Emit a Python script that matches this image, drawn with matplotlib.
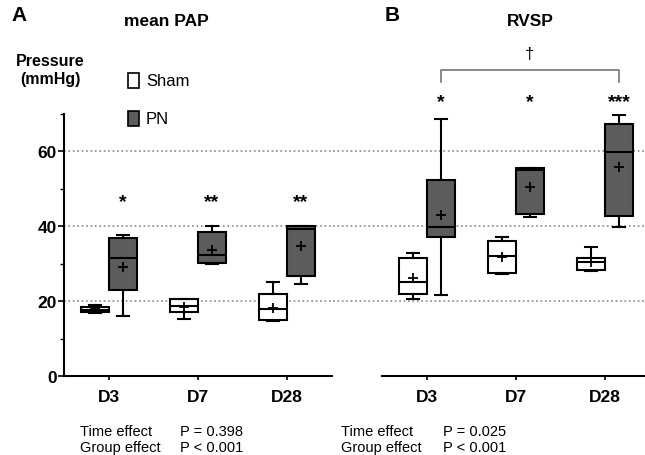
import matplotlib
matplotlib.use("Agg")
import matplotlib.pyplot as plt
from matplotlib.patches import Rectangle

days = ["D3", "D7", "D28"]
groups = ["Sham", "PN"]
colors = ["white", "#5c5c5c"]

# box stats: (whislo, q1, median, q3, whishi, mean)
pap_sham = [(17.0, 17.2, 17.6, 18.6, 18.9, 18.0),
            (15.3, 17.2, 18.8, 20.5, 20.5, 18.6),
            (14.7, 14.9, 17.9, 21.9, 25.1, 18.1)]
pap_pn = [(16.2, 22.9, 31.6, 36.8, 37.6, 29.1),
          (29.9, 30.3, 32.3, 38.4, 40.2, 33.8),
          (24.6, 26.8, 39.2, 40.0, 40.2, 34.7)]
rvsp_sham = [(20.6, 22.0, 25.1, 31.6, 32.8, 26.1),
             (27.3, 27.5, 32.1, 36.2, 37.1, 31.9),
             (28.2, 28.4, 30.4, 31.6, 34.5, 30.6)]
rvsp_pn = [(21.7, 37.2, 39.7, 52.4, 68.6, 43.0),
           (42.5, 43.3, 55.0, 55.5, 55.5, 50.4),
           (39.7, 42.8, 59.7, 67.3, 69.8, 55.9)]

pap_stars = ["*", "**", "**"]
rvsp_stars = ["*", "*", "***"]
pap_stats = ["Time effect", "Group effect"]
pap_p = ["P = 0.398", "P < 0.001"]
rvsp_p = ["P = 0.025", "P < 0.001"]

plt.rcParams['font.family'] = ['Liberation Sans', 'DejaVu Sans']

fig = plt.figure(figsize=(6.45, 4.56), dpi=100)
axA = fig.add_axes([0.0992, 0.1726, 0.4155, 0.5757])
axB = fig.add_axes([0.5922, 0.1726, 0.4078, 0.5757])


def to_dicts(rows):
    out = []
    for lo, q1, med, q3, hi, mean in rows:
        out.append(dict(whislo=lo, q1=q1, med=med, q3=q3, whishi=hi, mean=mean, fliers=[]))
    return out


def draw_panel(ax, sham, pn, stars, star_y):
    off = 0.157
    pos = list(range(len(days)))
    for data, shift, col in [(sham, -off, colors[0]), (pn, off, colors[1])]:
        ax.bxp(to_dicts(data), positions=[p + shift for p in pos], widths=0.31,
               patch_artist=True, showmeans=True,
               boxprops=dict(facecolor=col, edgecolor="black", linewidth=1.5),
               medianprops=dict(color="black", linewidth=1.5),
               whiskerprops=dict(color="black", linewidth=1.5),
               capprops=dict(color="black", linewidth=1.5),
               capwidths=0.13,
               meanprops=dict(marker="+", markeredgecolor="black", markersize=7, markeredgewidth=1.3))
    for p, s in zip(pos, stars):
        ax.text(p + off, star_y, s, ha="center", va="center", fontsize=14,
                fontweight="bold", clip_on=False)
    ax.set_ylim(0, 70)
    ax.set_xticks(pos)
    ax.set_xticklabels(days, fontsize=12.5, fontweight="bold")
    ax.tick_params(axis="x", length=3, width=1.2, pad=6)
    ax.spines["top"].set_visible(False)
    ax.spines["right"].set_visible(False)
    ax.spines["bottom"].set_linewidth(1.5)


draw_panel(axA, pap_sham, pap_pn, pap_stars, 46.5)
axA.set_xlim(-0.506, 2.506)
axA.set_yticks([0, 20, 40, 60])
axA.set_yticks([10, 30, 50, 70], minor=True)
axA.set_yticklabels(["0", "20", "40", "60"], fontsize=12.5, fontweight="bold")
axA.tick_params(axis="y", length=4, width=1.2, pad=1)
axA.tick_params(axis="y", which="minor", length=3, width=1)
axA.spines["left"].set_linewidth(1.5)
for g in [20, 40, 60]:
    axA.axhline(g, color="#888888", linestyle=":", linewidth=1.2, zorder=0)

draw_panel(axB, rvsp_sham, rvsp_pn, rvsp_stars, 73.2)
axB.set_xlim(-0.506, 2.45)
axB.spines["left"].set_visible(False)
axB.set_yticks([])
for g in [20, 40, 60]:
    axB.plot([-1.06, 2.45], [g, g], color="#888888", linestyle=":", linewidth=1.2,
             zorder=0, clip_on=False)

# bracket between PN D3 and PN D28
axB.plot([0.157, 0.157, 2.157, 2.157], [78.6, 81.8, 81.8, 78.6], color="#777777",
         linewidth=1.2, clip_on=False)
axB.text(1.157, 86.0, "\u2020", ha="center", va="center", fontsize=12, clip_on=False)

# titles and labels
fig.text(0.018, 0.965, "A", fontsize=15, fontweight="bold", va="center")
fig.text(0.258, 0.952, "mean PAP", fontsize=12.5, fontweight="bold", ha="center", va="center")
fig.text(0.596, 0.965, "B", fontsize=15, fontweight="bold", va="center")
fig.text(0.822, 0.952, "RVSP", fontsize=12.5, fontweight="bold", ha="center", va="center")
fig.text(0.078, 0.845, "Pressure\n(mmHg)", fontsize=11.5, fontweight="bold",
         ha="center", va="center", linespacing=1.2)

# legend squares
for i, (name, col) in enumerate(zip(groups, colors)):
    yc = 1 - (82 + 38 * i) / 456
    fig.add_artist(Rectangle((128 / 645, yc - 7 / 456), 11 / 645, 15 / 456,
                             transform=fig.transFigure, facecolor=col,
                             edgecolor="black", linewidth=1.2))
    fig.text(146 / 645, yc, name, fontsize=12, va="center")

# statistics text
for x0, x1, vals in [(80, 180, pap_p), (341, 443, rvsp_p)]:
    for i, (lab, v) in enumerate(zip(pap_stats, vals)):
        yy = 1 - (432 + 16 * i) / 456
        fig.text(x0 / 645, yy, lab, fontsize=10.5, va="center")
        fig.text(x1 / 645, yy, v, fontsize=10.5, va="center")

plt.savefig("out.png", dpi=100)
